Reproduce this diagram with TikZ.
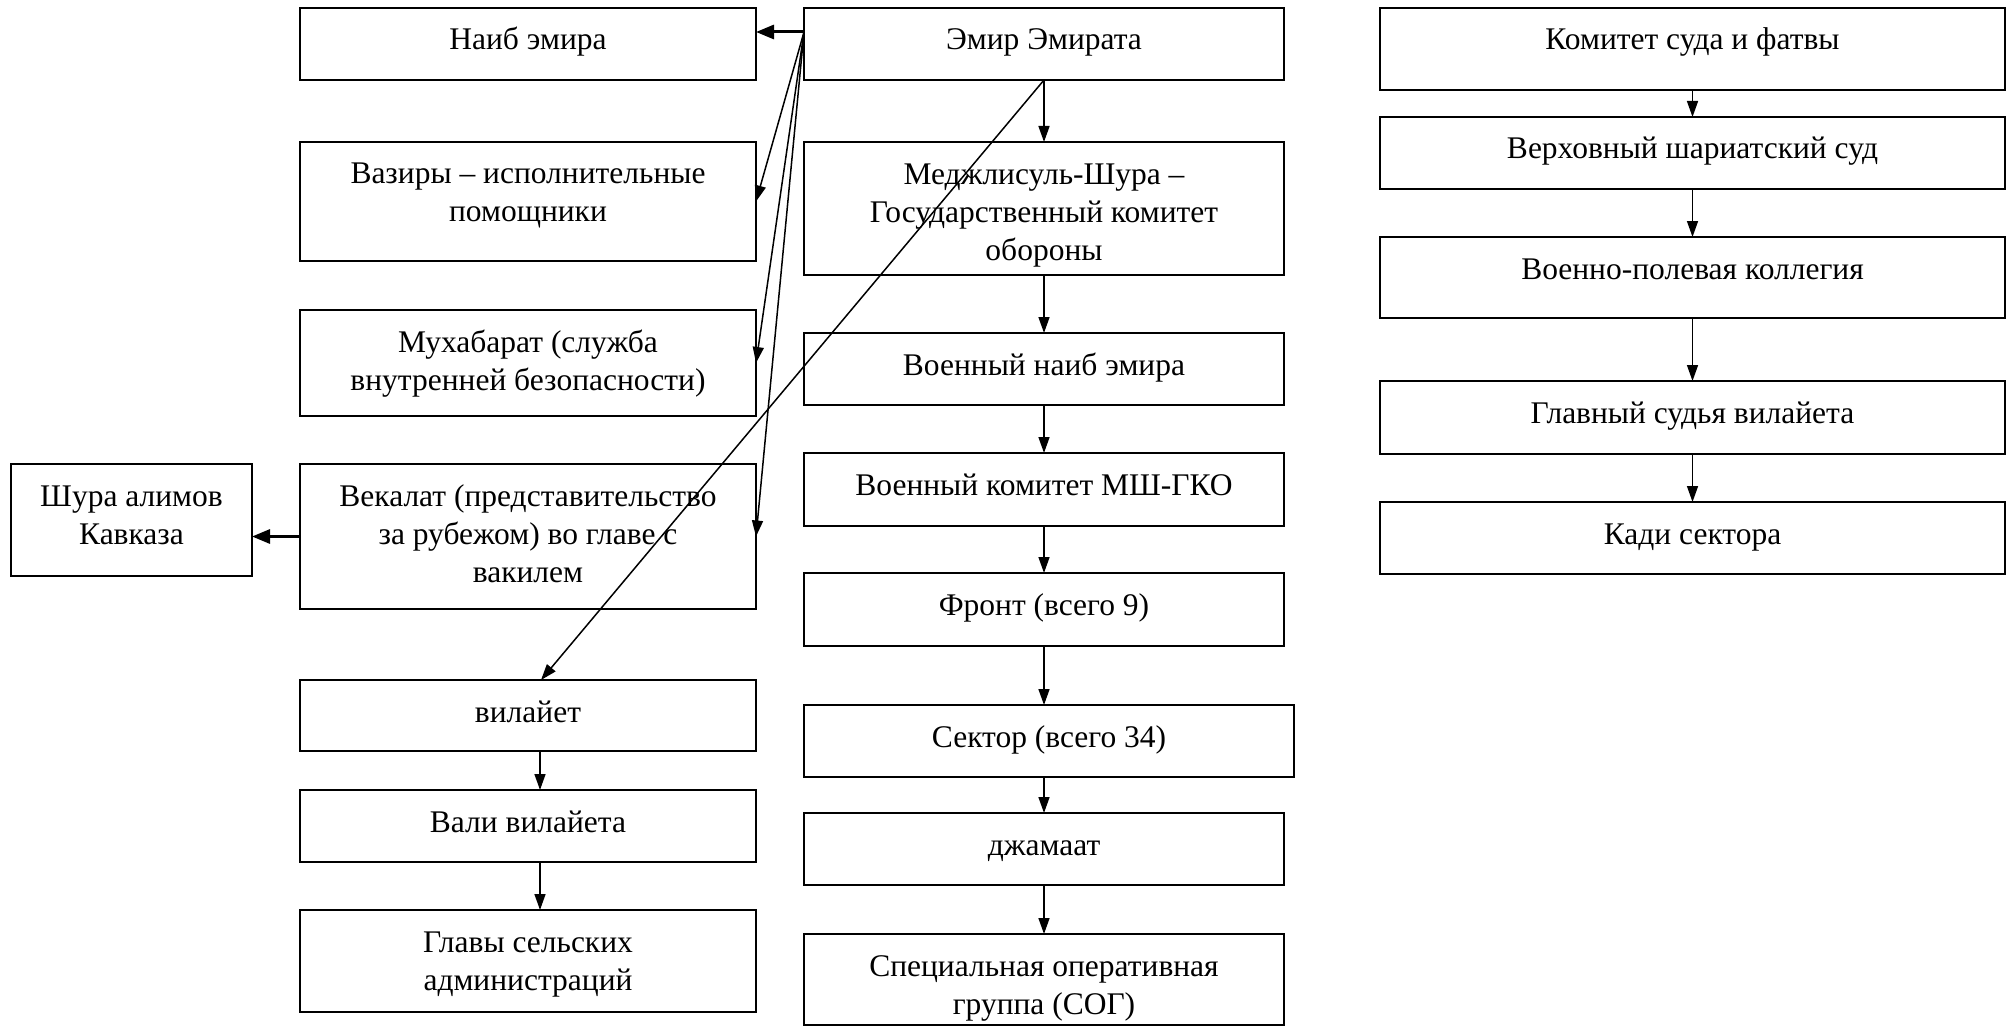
\documentclass[tikz,border=0pt]{standalone}
\usepackage{fontspec}
\setmainfont{Liberation Serif}
\usetikzlibrary{positioning}
\usetikzlibrary{arrows.meta}

\begin{document}
\begin{tikzpicture}
  [x=1pt, y=-1pt,
   box/.style={draw, line width=1.6pt, align=center, inner sep=0pt, outer sep=0pt, text height=42pt,
     font=\fontsize{31.5}{38}\selectfont},
   twolines/.style={text height=80pt},
   threelines/.style={text height=118pt},
   link/.style={line width=1.5pt, -{Triangle[length=16pt, width=11pt]}},
   boldlink/.style={line width=3pt, -{Triangle[length=18pt, width=14pt]}}]
  \useasboundingbox (0,0) rectangle (2007,1027);

  % centre column
  \node (emir) [box, minimum width=480pt, text depth=30pt] at (1044,44) {Эмир Эмирата};
  \node (medzh) [box, threelines, minimum width=480pt, text depth=15pt, below=62pt of emir]
    {Меджлисуль-Шура –\\Государственный комитет\\обороны};
  \node (vnaib) [box, minimum width=480pt, text depth=30pt, below=58pt of medzh] {Военный наиб эмира};
  \node (vkom) [box, minimum width=480pt, text depth=31pt, below=48pt of vnaib] {Военный комитет МШ-ГКО};
  \node (front) [box, minimum width=480pt, text depth=31pt, below=47pt of vkom] {Фронт (всего 9)};
  \node (sektor) [box, minimum width=490pt, text depth=30pt, below right=59pt and 0pt of front.south west] {Сектор (всего 34)};
  \node (jamaat) [box, minimum width=480pt, text depth=30pt, below right=36pt and 0pt of sektor.south west] {джамаат};
  \node (sog) [box, twolines, minimum width=480pt, text depth=11pt, below=49pt of jamaat]
    {Специальная оперативная\\группа (СОГ)};

  % left column
  \node (naib) [box, minimum width=456pt, text depth=30pt] at (528,44) {Наиб эмира};
  \node (vaziry) [box, twolines, minimum width=456pt, text depth=39pt, below=62pt of naib]
    {Вазиры – исполнительные\\помощники};
  \node (muhab) [box, twolines, minimum width=456pt, text depth=26pt, below=49pt of vaziry]
    {Мухабарат (служба\\внутренней безопасности)};
  \node (vekalat) [box, threelines, minimum width=456pt, text depth=27pt, below=48pt of muhab]
    {Векалат (представительство\\за рубежом) во главе с\\вакилем};
  \node (shura) [box, twolines, minimum width=241pt, text depth=32pt, below left=0pt and 48pt of vekalat.north west]
    {Шура алимов\\Кавказа};
  \node (vilayet) [box, minimum width=456pt, text depth=29pt, below=71pt of vekalat] {вилайет};
  \node (vali) [box, minimum width=456pt, text depth=30pt, below=39pt of vilayet] {Вали вилайета};
  \node (glavy) [box, twolines, minimum width=456pt, text depth=22pt, below=48pt of vali]
    {Главы сельских\\администраций};

  % right column
  \node (ksud) [box, minimum width=625pt, text depth=40pt] at (1692.5,49) {Комитет суда и фатвы};
  \node (verh) [box, minimum width=625pt, text depth=30pt, below=27pt of ksud] {Верховный шариатский суд};
  \node (vpol) [box, minimum width=625pt, text depth=39pt, below=48pt of verh] {Военно-полевая коллегия};
  \node (gsud) [box, minimum width=625pt, text depth=31pt, below=63pt of vpol] {Главный судья вилайета};
  \node (kadi) [box, minimum width=625pt, text depth=30pt, below=48pt of gsud] {Кади сектора};

  % links from the emir
  \coordinate (src) at ([yshift=12pt]emir.west);
  \draw[boldlink] (src) -- (src -| naib.east);
  \draw[link] (src) -- (vaziry.east);
  \draw[link] (src) -- (muhab.east);
  \draw[link] (src) -- (vekalat.east);
  \draw[link] (emir.south) -- ([xshift=13pt]vilayet.north);
  \draw[boldlink] (vekalat.west) -- (vekalat.west -| shura.east);

  \draw[link] (emir) -- (medzh);
  \draw[link] (medzh) -- (vnaib);
  \draw[link] (vnaib) -- (vkom);
  \draw[link] (vkom) -- (front);
  \draw[link] (front.south) -- (front.south |- sektor.north);
  \draw[link] (front.south |- sektor.south) -- (front.south |- jamaat.north);
  \draw[link] (jamaat) -- (sog);

  \draw[link] ([xshift=12pt]vilayet.south) -- ([xshift=12pt]vali.north);
  \draw[link] ([xshift=12pt]vali.south) -- ([xshift=12pt]glavy.north);

  \draw[link] (ksud) -- (verh);
  \draw[link] (verh) -- (vpol);
  \draw[link] (vpol) -- (gsud);
  \draw[link] (gsud) -- (kadi);
\end{tikzpicture}
\end{document}
